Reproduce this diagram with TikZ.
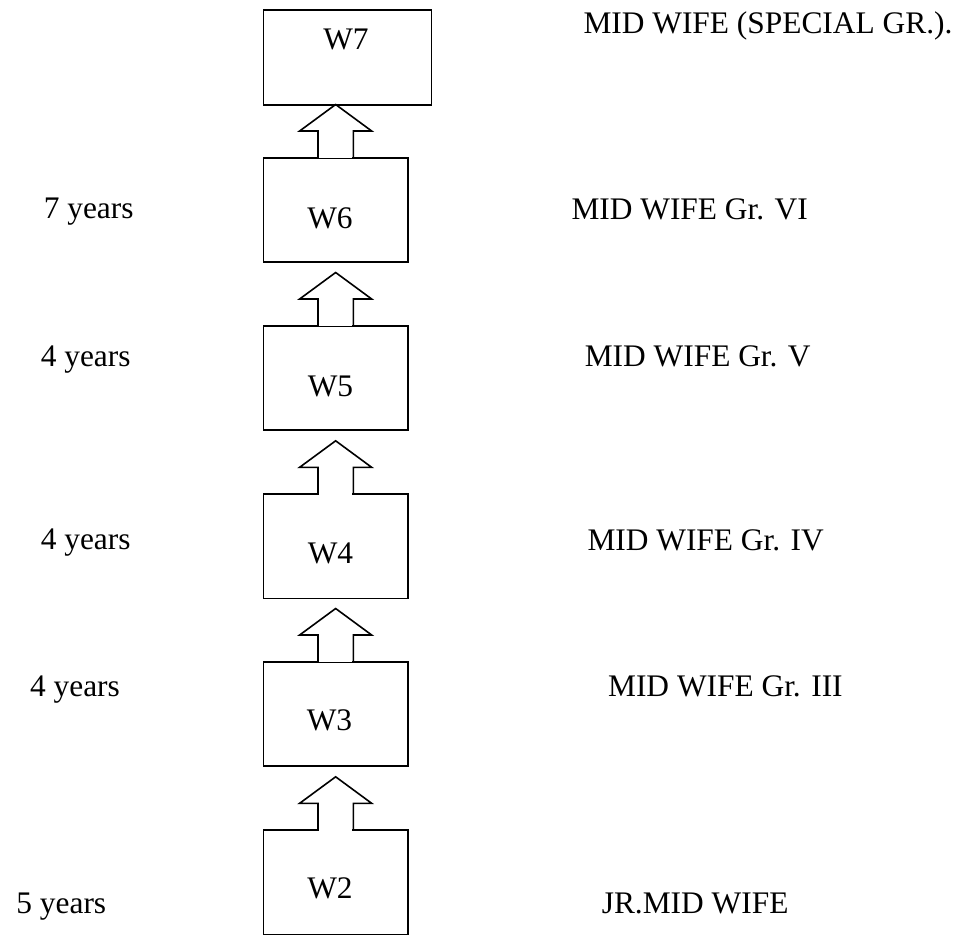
\documentclass[tikz,border=0pt]{standalone}
\usepackage{fontspec}
\setmainfont{Liberation Serif}
\usetikzlibrary{calc}
\begin{document}
\begin{tikzpicture}[x=1pt,y=-1pt, line width=1.6pt,
  box/.style={draw, rectangle, inner sep=0pt, minimum width=144.3pt, minimum height=104.3pt, anchor=north west},
  lbl/.style={anchor=base west, inner sep=0pt, font=\fontsize{31.4}{37}\selectfont},
  boxlbl/.style={anchor=base, inner sep=0pt, font=\fontsize{31.4}{37}\selectfont},
  promo/.style={line join=miter}]
\useasboundingbox (0,0) rectangle (974,934);
% boxes
\node[box, minimum width=168pt, minimum height=95pt] (w7) at (262.7,9) {};
\node[box] (w6) at (262.7,157) {};
\node[box] (w5) at (262.7,325) {};
\node[box] (w4) at (262.7,493.3) {};
\node[box] (w3) at (262.7,661) {};
\node[box] (w2) at (262.7,829.3) {};
% box texts
\node[boxlbl] (t7) at (346,50) {W7};
\node[boxlbl] (t6) at (330,228.3) {W6};
\node[boxlbl] (t5) at (330.5,396) {W5};
\node[boxlbl] (t4) at (330.5,563.3) {W4};
\node[boxlbl] (t3) at (329.5,730) {W3};
\node[boxlbl] (t2) at (330,898.3) {W2};
% promotion arrows (rising out of each lower box)
\foreach \b in {w6,w5,w4,w3,w2} {
  \fill[white] ($(\b.north)+(-16.8,1.2)$) rectangle ($(\b.north)+(16.8,-1.2)$);
  \coordinate (\b tip) at ($(\b.north)+(0,-52.5)$);
  \draw[promo] ($(\b.north)+(-17.7,0)$) -- ++(0,-26) -- ++(-18.3,0)
     -- (\b tip) -- ($(\b.north)+(36,-26)$) -- ++(-18.3,0) -- ++(0,26);
}
% left labels
\node[lbl] (y6) at (43,218.3) {7 years};
\node[lbl] (y5) at (40,366) {4 years};
\node[lbl] (y4) at (40,549.3) {4 years};
\node[lbl] (y3) at (29.3,696.7) {4 years};
\node[lbl] (y2) at (15.6,913) {5 years};
% right labels
\node[lbl] (g7) at (582.7,33.3) {MID WIFE (SPECIAL GR.).};
\node[lbl] (g6) at (570.7,219) {MID WIFE Gr. VI};
\node[lbl] (g5) at (584,366.7) {MID WIFE Gr. V};
\node[lbl] (g4) at (586.7,550) {MID WIFE Gr. IV};
\node[lbl] (g3) at (607.3,696.7) {MID WIFE Gr. III};
\node[lbl] (g2) at (601,913) {JR.MID WIFE};
\end{tikzpicture}
\end{document}
